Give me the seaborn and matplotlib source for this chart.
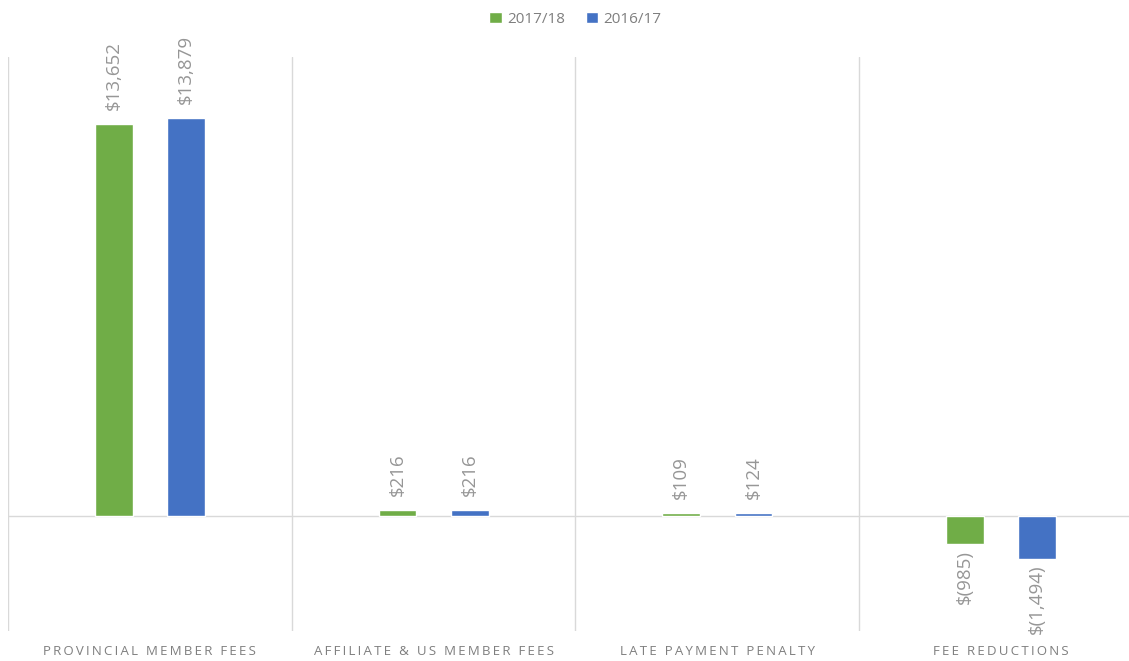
import matplotlib
matplotlib.use("Agg")
import matplotlib.pyplot as plt
import seaborn as sns
import numpy as np
import pandas as pd

categories = ["PROVINCIAL MEMBER FEES", "AFFILIATE & US MEMBER FEES",
              "LATE PAYMENT PENALTY", "FEE REDUCTIONS"]
years = ["2017/18", "2016/17"]
values_1718 = [13652, 216, 109, -985]
values_1617 = [13879, 216, 124, -1494]
colors = ["#70AD47", "#4472C4"]


def money(v):
    if v < 0:
        return f"$({abs(v):,.0f})"
    return f"${v:,.0f}"


def spaced(s):
    # mimic the wide letter spacing of the original axis labels
    return "\u2009".join(s)


df = pd.DataFrame({
    "category": categories * 2,
    "year": [years[0]] * 4 + [years[1]] * 4,
    "value": values_1718 + values_1617,
})

sns.set_style("white")
plt.rcParams['font.family'] = ['Open Sans', 'DejaVu Sans']

fig = plt.figure(figsize=(11.29, 6.61), dpi=100)
ax = fig.add_axes([8 / 1129, 30 / 661, 1135 / 1129, 574 / 661])

sns.barplot(data=df, x="category", y="value", hue="year", hue_order=years,
            palette=colors, width=0.51, gap=0.48, ax=ax, legend=True,
            saturation=1)

# positive labels sit a bit further off the bar than negative ones
for cont, vals in zip(ax.containers, [values_1718, values_1617]):
    pos = [money(v) if v >= 0 else "" for v in vals]
    neg = [money(v) if v < 0 else "" for v in vals]
    ax.bar_label(cont, labels=pos, rotation=90, padding=10, fontsize=13.5, color="#969696")
    ax.bar_label(cont, labels=neg, rotation=90, padding=4, fontsize=13.5, color="#969696")

ax.set_ylim(-4000, 16000)
ax.set_xlim(-0.5, 3.5)
ax.axhline(0, color="#d9d9d9", lw=1, zorder=0)
for xb in np.arange(-0.5, 4.0, 1.0):
    ax.axvline(xb, color="#d9d9d9", lw=1, zorder=0)

for s in ax.spines.values():
    s.set_visible(False)
ax.set_yticks([])
ax.set_xlabel("")
ax.set_ylabel("")
ax.set_xticks(range(4))
ax.set_xticklabels([spaced(c) for c in categories], fontsize=9.5, color="#7f7f7f")
ax.tick_params(axis="x", length=0, pad=10)

ax.legend(loc="center", bbox_to_anchor=(0.5, 1.066), ncol=2, frameon=False,
          fontsize=11, labelcolor="#7f7f7f", handlelength=0.8, handleheight=0.8,
          handletextpad=0.35, columnspacing=1.4)

fig.savefig("out.png", dpi=100)
plt.close(fig)
